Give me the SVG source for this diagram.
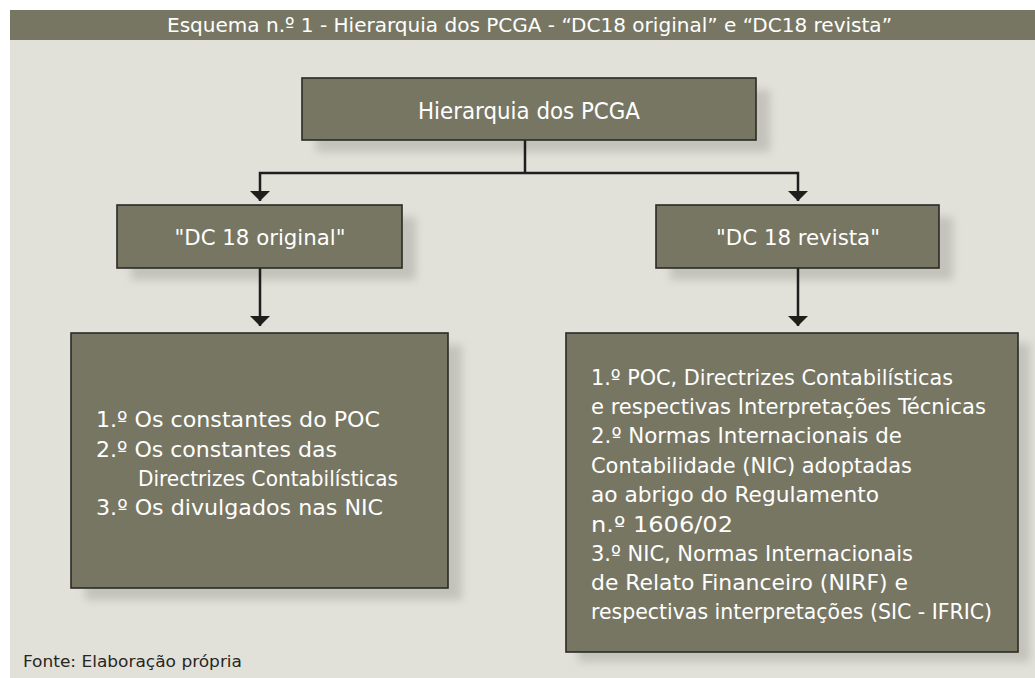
<svg xmlns="http://www.w3.org/2000/svg" width="1035" height="678" viewBox="0 0 1035 678">
  <defs>
    <filter id="sh" x="-10%" y="-20%" width="130%" height="150%">
      <feGaussianBlur stdDeviation="4"/>
    </filter>
    <marker id="arr" viewBox="0 0 10 20" refX="10" refY="10" markerWidth="10" markerHeight="20" markerUnits="userSpaceOnUse" orient="auto-start-reverse">
      <path d="M0,0 L10,10 L0,20 Z" fill="#1e1e1c"/>
    </marker>
  </defs>
  <style>
    .box { fill: #777663; stroke: #2a2a26; stroke-width: 1.6; }
    .shadow { fill: #c3c3bb; filter: url(#sh); }
    .t { font-family: "DejaVu Sans Condensed", "DejaVu Sans", sans-serif; fill: #ffffff; }
    .conn { stroke: #1e1e1c; stroke-width: 2.5; fill: none; }
  </style>
  <rect x="0" y="0" width="1035" height="678" fill="#ffffff"/>
  <rect x="10" y="40" width="1025" height="638" fill="#e1e1d9"/>
  <g id="header">
    <rect x="10" y="10" width="1025" height="30" fill="#777663"/>
    <text class="t" x="167" y="32" font-size="20" textLength="725" lengthAdjust="spacingAndGlyphs">Esquema n.º 1 - Hierarquia dos PCGA - “DC18 original” e “DC18 revista”</text>
  </g>
  <g id="shadows">
    <rect class="shadow" x="316" y="90" width="454" height="62"/>
    <rect class="shadow" x="131" y="217" width="285" height="63"/>
    <rect class="shadow" x="670" y="217" width="283" height="63"/>
    <rect class="shadow" x="85" y="345" width="377" height="255"/>
    <rect class="shadow" x="578" y="343" width="452" height="319"/>
  </g>
  <g id="connectors">
    <line class="conn" x1="525" y1="140" x2="525" y2="173" stroke-width="3.5"/>
    <polyline class="conn" points="260,201 260,173 798,173 798,201" marker-start="url(#arr)" marker-end="url(#arr)"/>
    <line class="conn" x1="260" y1="268" x2="260" y2="326" stroke-width="3" marker-end="url(#arr)"/>
    <line class="conn" x1="798" y1="268" x2="798" y2="326" stroke-width="3" marker-end="url(#arr)"/>
  </g>
  <g id="node-hierarquia">
    <rect class="box" x="302" y="78" width="454" height="62"/>
    <text class="t" x="529" y="119" font-size="23" text-anchor="middle" textLength="222" lengthAdjust="spacingAndGlyphs">Hierarquia dos PCGA</text>
  </g>
  <g id="node-original">
    <rect class="box" x="117" y="205" width="285" height="63"/>
    <text class="t" x="260" y="245" font-size="21" text-anchor="middle" textLength="171" lengthAdjust="spacingAndGlyphs">"DC 18 original"</text>
  </g>
  <g id="node-revista">
    <rect class="box" x="656" y="205" width="283" height="63"/>
    <text class="t" x="798" y="245" font-size="21" text-anchor="middle" textLength="164" lengthAdjust="spacingAndGlyphs">"DC 18 revista"</text>
  </g>
  <g id="node-original-list">
    <rect class="box" x="71" y="333" width="377" height="255"/>
    <g class="t" font-size="22">
      <text x="96" y="427" textLength="284" lengthAdjust="spacingAndGlyphs">1.º Os constantes do POC</text>
      <text x="96" y="457" textLength="241" lengthAdjust="spacingAndGlyphs">2.º Os constantes das</text>
      <text x="138" y="486" textLength="260" lengthAdjust="spacingAndGlyphs">Directrizes Contabilísticas</text>
      <text x="96" y="515" textLength="287" lengthAdjust="spacingAndGlyphs">3.º Os divulgados nas NIC</text>
    </g>
  </g>
  <g id="node-revista-list">
    <rect class="box" x="566" y="333" width="452" height="319"/>
    <g class="t" font-size="22">
      <text x="591" y="385" textLength="362" lengthAdjust="spacingAndGlyphs">1.º POC, Directrizes Contabilísticas</text>
      <text x="591" y="414" textLength="395" lengthAdjust="spacingAndGlyphs">e respectivas Interpretações Técnicas</text>
      <text x="591" y="443" textLength="311" lengthAdjust="spacingAndGlyphs">2.º Normas Internacionais de</text>
      <text x="591" y="473" textLength="321" lengthAdjust="spacingAndGlyphs">Contabilidade (NIC) adoptadas</text>
      <text x="591" y="502" textLength="288" lengthAdjust="spacingAndGlyphs">ao abrigo do Regulamento</text>
      <text x="591" y="532" textLength="142" lengthAdjust="spacingAndGlyphs">n.º 1606/02</text>
      <text x="591" y="561" textLength="322" lengthAdjust="spacingAndGlyphs">3.º NIC, Normas Internacionais</text>
      <text x="591" y="590" textLength="317" lengthAdjust="spacingAndGlyphs">de Relato Financeiro (NIRF) e</text>
      <text x="591" y="619" textLength="401" lengthAdjust="spacingAndGlyphs">respectivas interpretações (SIC - IFRIC)</text>
    </g>
  </g>
  <g id="footer">
    <text x="23" y="667" font-family="DejaVu Sans Condensed, DejaVu Sans, sans-serif" font-size="16" fill="#262624" textLength="219" lengthAdjust="spacingAndGlyphs">Fonte: Elaboração própria</text>
  </g>
</svg>
